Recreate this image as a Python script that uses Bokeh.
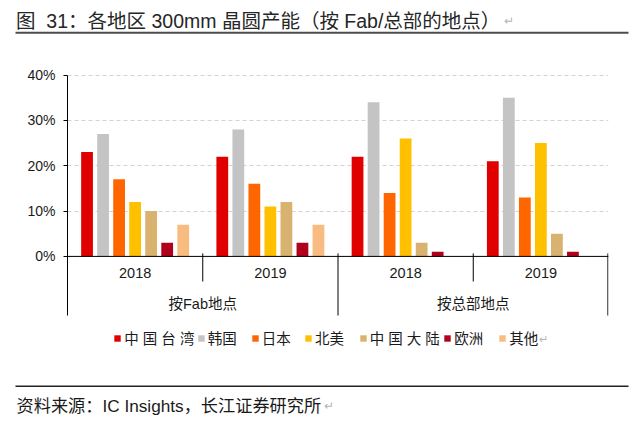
from bokeh.plotting import figure
from bokeh.layouts import column
from bokeh.models import (ColumnDataSource, FactorRange, Range1d, FixedTicker, PrintfTickFormatter,
                          Legend, LegendItem, Span)
from bokeh.transform import dodge
from bokeh.core.properties import value
from bokeh.embed import file_html
from bokeh.resources import INLINE

# ---------------- data ----------------
groups = ["按Fab地点", "按Fab地点", "按总部地点", "按总部地点"]
years = ["2018", "2019", "2018", "2019"]
series_names = ["中 国 台 湾", "韩国", "日本", "北美", "中 国 大 陆", "欧洲", "其他"]
taiwan = [23, 22, 22, 21]
korea = [27, 28, 34, 35]
japan = [17, 16, 14, 13]
north_america = [12, 11, 26, 25]
mainland = [10, 12, 3, 5]
europe = [3, 3, 1, 1]
others = [7, 7, 0, 0]
y_ticks = [0, 10, 20, 30, 40]
title_text = "图\u00a0 31：各地区 300mm 晶圆产能（按 Fab/总部的地点）"
source_text = "资料来源：IC Insights，长江证券研究所"

series_values = [taiwan, korea, japan, north_america, mainland, europe, others]
colors = ["#E00000", "#C4C4C4", "#FF6600", "#FFC000", "#D8B26E", "#B0001C", "#F8BC80"]

FONT = "Liberation Sans, Noto Sans CJK SC"
TXT = "#1a1a1a"
RET = "#b5b5b5"
W = 640

factors = list(zip(groups, years))


def strip(height):
    f = figure(width=W, height=height, x_range=Range1d(0, W), y_range=Range1d(height, 0),
               x_axis_location=None, y_axis_location=None, toolbar_location=None,
               output_backend="svg", min_border=0, title=None, frame_align=False)
    f.outline_line_color = None
    f.grid.visible = False
    return f


# ---------------- title strip ----------------
TH = 36
pt = strip(TH)
pt.text(x=[15.5], y=[20.5], text=[title_text], text_font=value(FONT), text_font_size="19.5px",
        text_color="#262626", text_baseline="middle")
pt.text(x=[503], y=[20.5], text=["↵"], text_font_size="12px", text_color=RET,
        text_baseline="middle")
pt.segment(x0=[15], x1=[628], y0=[32.3], y1=[32.3], line_color="#4d4d4d", line_width=2)

# ---------------- main chart ----------------
MH = 344            # height of main strip (page y 36..380)
ZERO = 255.9 - TH   # pixel of 0% inside strip
PXU = 181.4 / 40    # pixels per percentage point
Y_TOP = ZERO / PXU
Y_BOT = -(MH - ZERO) / PXU
AX_BOT = -(315 - 255.9) / PXU

p = figure(width=W, height=MH,
           x_range=FactorRange(*factors, factor_padding=0, subgroup_padding=0,
                               group_padding=0, range_padding=0),
           y_range=Range1d(Y_BOT, Y_TOP),
           x_axis_location=None, toolbar_location=None, output_backend="svg",
           min_border_left=67, min_border_right=32, min_border_top=0, min_border_bottom=0,
           title=None, frame_align=False)
p.outline_line_color = None
p.background_fill_color = "white"
p.border_fill_color = "white"

src = ColumnDataSource(dict(x=factors, **{f"s{i}": v for i, v in enumerate(series_values)}))

step = 0.1185
bar_w = 0.087
renderers = []
for i, col in enumerate(colors):
    r = p.vbar(x=dodge("x", (i - 3) * step, range=p.x_range), top=f"s{i}", width=bar_w,
               source=src, fill_color=col, line_color=None)
    renderers.append(r)

yax = p.yaxis[0]
yax.ticker = FixedTicker(ticks=y_ticks)
yax.formatter = PrintfTickFormatter(format="%d%%")
yax.bounds = (AX_BOT, 40)
yax.axis_line_color = "black"
yax.axis_line_width = 1
yax.major_tick_line_color = "black"
yax.major_tick_out = 4
yax.major_tick_in = 0
yax.minor_tick_line_color = None
yax.major_label_standoff = 8
yax.major_label_text_font = FONT
yax.major_label_text_font_size = "14px"
yax.major_label_text_color = TXT

p.ygrid.ticker = FixedTicker(ticks=y_ticks)
p.ygrid.grid_line_color = "#d2d2d2"
p.ygrid.grid_line_dash = "4 3"
p.ygrid.grid_line_width = 1
for g in p.xgrid:
    g.visible = False

# baseline
p.add_layout(Span(location=0, dimension="width", line_color="black", line_width=1))

# separators between categories
sep_x, sep_top, sep_bot = [], [], []
for k, f in enumerate(factors):
    last = k == len(factors) - 1
    major = last or (factors[k + 1][0] != f[0])
    sep_x.append((f[0], f[1], 0.5 - (0.6 / 135.25 if last else 0)))
    sep_top.append(3 / PXU)
    sep_bot.append(AX_BOT if major else -(281 - 255.9) / PXU)
sep_src = ColumnDataSource(dict(x=sep_x, y0=sep_top, y1=sep_bot))
p.segment(x0="x", x1="x", y0="y0", y1="y1", source=sep_src, line_color="black", line_width=1)

# category labels
lab_src = ColumnDataSource(dict(x=factors, y=[-(272.7 - 255.9) / PXU] * len(factors), t=years))
p.text(x="x", y="y", text="t", source=lab_src, text_font=value(FONT), text_font_size="14.5px",
       text_align="center", text_baseline="middle", text_color=TXT)
top_groups = list(dict.fromkeys(groups))
grp_src = ColumnDataSource(dict(x=top_groups, y=[-(303 - 255.9) / PXU] * len(top_groups),
                                t=top_groups))
p.text(x="x", y="y", text="t", source=grp_src, text_font=value(FONT), text_font_size="14.5px",
       text_align="center", text_baseline="middle", text_color=TXT)

# legend, one per item so the uneven spacing can be matched
leg_px = [113.3, 196.7, 250.7, 304.0, 358.7, 443.3, 498.3]
LEG_CY = 338.5
for name, r, lx in zip(series_names, renderers, leg_px):
    lg = Legend(items=[LegendItem(label=name, renderers=[r])],
                location=(lx - 67, (380 - LEG_CY) - 9.5),
                orientation="horizontal", glyph_width=8, glyph_height=8, label_standoff=3,
                label_height=8, label_width=10, padding=0, margin=0, spacing=0,
                border_line_color=None, background_fill_alpha=0,
                label_text_font=FONT, label_text_font_size="14.5px", label_text_color=TXT)
    p.add_layout(lg)
p.text(x=[(538 - 67) / 135.25], y=[(255.9 - LEG_CY) / PXU], text=["↵"], text_font_size="11px",
       text_color=RET, text_baseline="middle")

# ---------------- source strip ----------------
SH = 430 - TH - MH
ps = strip(SH)
ps.segment(x0=[15], x1=[628], y0=[385.7 - 380], y1=[385.7 - 380], line_color="#222222",
           line_width=1.5)
ps.text(x=[16], y=[405 - 380], text=[source_text], text_font=value(FONT), text_font_size="17.2px",
        text_color=TXT, text_baseline="middle")
ps.text(x=[323], y=[405 - 380], text=["↵"], text_font_size="12px", text_color=RET,
        text_baseline="middle")

layout = column(pt, p, ps, spacing=0)
open("out.html", "w").write(file_html(layout, INLINE))
